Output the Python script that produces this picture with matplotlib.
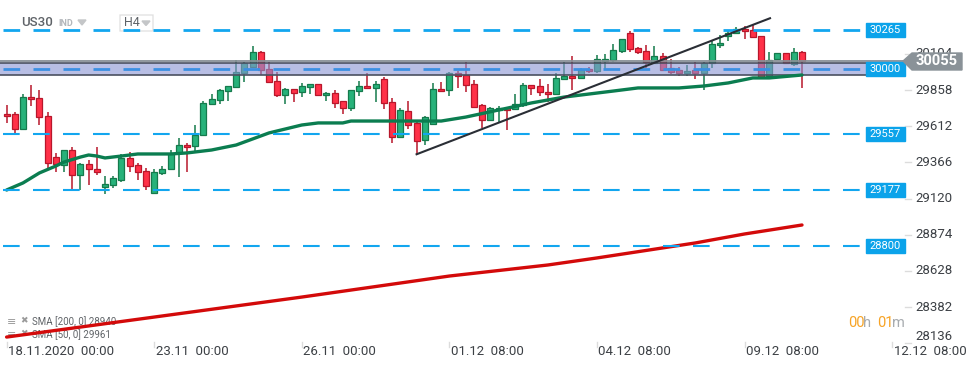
import matplotlib.pyplot as plt
import numpy as np
from matplotlib.patches import Rectangle, Polygon, FancyBboxPatch

plt.rcParams['font.family'] = ['Roboto', 'DejaVu Sans']
plt.rcParams['lines.scale_dashes'] = False

# US30, H4 candles
opens = [29695, 29693, 29591, 29808, 29802, 29679, 29400, 29348, 29448, 29278,
         29353, 29319, 29196, 29210, 29244, 29394, 29346, 29305, 29156, 29292,
         29319, 29428, 29482, 29475, 29550, 29761, 29788, 29849, 29876, 29972,
         30012, 30114, 29999, 29917, 29822, 29863, 29842, 29877, 29897, 29822,
         29836, 29781, 29734, 29849, 29883, 29870, 29931, 29774, 29536, 29713,
         29632, 29516, 29625, 29863, 29856, 29972, 29958, 29897, 29754, 29652,
         29720, 29734, 29727, 29754, 29890, 29883, 29842, 29829, 29931, 29951,
         29938, 29999, 29985, 30053, 30060, 30121, 30244, 30142, 30121, 30040,
         30087, 30006, 29992, 29972, 29992, 29972, 30040, 30162, 30223, 30244,
         30271, 30264, 30223, 29951, 30067, 30108, 30033, 30114]
closes = [29679, 29591, 29808, 29795, 29672, 29360, 29353, 29448, 29278, 29353,
          29319, 29298, 29217, 29258, 29394, 29339, 29298, 29203, 29298, 29319,
          29421, 29482, 29468, 29554, 29768, 29795, 29856, 29883, 29978, 30040,
          30114, 29992, 29910, 29822, 29863, 29836, 29883, 29897, 29822, 29836,
          29768, 29734, 29856, 29883, 29870, 29897, 29768, 29536, 29720, 29618,
          29509, 29672, 29863, 29849, 29972, 29951, 29890, 29740, 29652, 29734,
          29734, 29720, 29761, 29890, 29870, 29842, 29829, 29938, 29951, 29938,
          29992, 29985, 30067, 30067, 30128, 30203, 30135, 30114, 30046, 30087,
          29992, 29978, 29972, 29985, 29972, 30040, 30169, 30176, 30244, 30271,
          30257, 30216, 29944, 30060, 30108, 30040, 30114, 30055]
highs = [29756, 29708, 29831, 29892, 29858, 29708, 29428, 29450, 29468, 29360,
         29382, 29470, 29273, 29271, 29421, 29434, 29360, 29328, 29319, 29339,
         29448, 29532, 29496, 29620, 29780, 29829, 29865, 29888, 30060, 30050,
         30157, 30123, 30048, 29978, 29870, 29866, 29904, 29900, 29900, 29843,
         29856, 29785, 29860, 29917, 29974, 29917, 29944, 29802, 29734, 29781,
         29640, 29680, 29904, 29912, 29982, 29989, 30046, 29924, 29760, 29740,
         29747, 29738, 29831, 29904, 29895, 29931, 29897, 29972, 30046, 30087,
         30006, 30012, 30094, 30101, 30169, 30207, 30261, 30148, 30162, 30155,
         30107, 30067, 30012, 30026, 30050, 30046, 30189, 30230, 30264, 30285,
         30291, 30298, 30225, 30114, 30110, 30112, 30142, 30121]
lows = [29636, 29568, 29591, 29751, 29620, 29330, 29302, 29302, 29187, 29178,
        29214, 29282, 29149, 29190, 29230, 29298, 29244, 29180, 29156, 29282,
        29319, 29268, 29302, 29438, 29545, 29755, 29761, 29785, 29870, 29914,
        30005, 29960, 29904, 29808, 29761, 29774, 29808, 29829, 29815, 29781,
        29734, 29693, 29713, 29815, 29866, 29774, 29727, 29496, 29530, 29595,
        29421, 29482, 29618, 29845, 29815, 29870, 29842, 29734, 29598, 29645,
        29638, 29588, 29720, 29740, 29822, 29815, 29774, 29825, 29928, 29856,
        29932, 29972, 29972, 29994, 30046, 30107, 30114, 30101, 30006, 30035,
        29985, 29965, 29951, 29951, 29931, 29856, 30006, 30142, 30189, 30240,
        30203, 30210, 29940, 29945, 30064, 30035, 30019, 29870]

sma50_idx = [0, 2, 4, 6, 7, 9, 10, 11, 12, 14, 16, 20, 22, 25, 28, 30, 32, 34, 36,
             38, 41, 42, 49, 53, 56, 60, 64, 68, 74, 77, 82, 85, 88, 91, 93, 97]
sma50_val = [29178, 29226, 29294, 29341, 29368, 29402, 29416, 29409, 29396, 29409,
             29423, 29423, 29430, 29450, 29484, 29525, 29566, 29593, 29620,
             29634, 29634, 29647, 29647, 29647, 29674, 29722, 29770, 29810, 29851,
             29872, 29872, 29885, 29906, 29940, 29940, 29960]
sma200_idx = [0, 18, 36, 54, 66, 72, 84, 90, 97]
sma200_val = [28178, 28314, 28450, 28593, 28668, 28716, 28818, 28879, 28940]
sma200_last = 28940
sma50_last = 29961

levels = [30265, 29557, 29177, 28800]
band_level = 30000
band_low, band_high = 29958, 30042
last_price = 30055
trend_idx = [50, 93.1]
trend_val = [29421, 30346]

y_ticks = [30104, 29858, 29612, 29366, 29120, 28874, 28628, 28382, 28136]
x_tick_idx = [0, 18, 36, 54, 72, 90, 108]
x_tick_labels = ['18.11.2020  00:00', '23.11  00:00', '26.11  00:00', '01.12  08:00',
                 '04.12  08:00', '09.12  08:00', '12.12  08:00']

# pixel <-> data mapping (axes fill the whole figure)
W, H = 974, 368
x0, dx = 6.6, 8.2
p0, dp = 30470, 6.8


def X(px):
    return (px - x0) / dx


def Y(py):
    return p0 - dp * py


fig = plt.figure(figsize=(W / 100, H / 100), dpi=100)
ax = fig.add_axes([0, 0, 1, 1])
ax.set_xlim(X(0), X(W))
ax.set_ylim(Y(H), Y(0))
ax.axis('off')

# candles
o = np.array(opens)
c = np.array(closes)
idx = np.arange(len(o))
up = c >= o
fill = np.where(up, '#27b27a', '#ff3148')
edge = np.where(up, '#157a4c', '#b8172b')
ax.vlines(idx, lows, highs, colors=edge, lw=1.1, zorder=3)
ax.bar(idx, np.maximum(np.abs(c - o), 6), bottom=np.minimum(o, c), width=0.72,
       color=fill, edgecolor=edge, linewidth=0.9, zorder=3)

# 30000 zone
ax.add_patch(Rectangle((X(-5), band_low), X(867) - X(-5), band_high - band_low,
                       facecolor=(137 / 255, 148 / 255, 210 / 255, 0.6),
                       edgecolor='#4a5060', lw=1.2, zorder=4))
ax.plot([X(3), X(865)], [band_level] * 2, color='#3b8fe2', lw=2, dashes=(12, 9.6), zorder=4.5)
ax.plot([X(0), X(903)], [last_price] * 2, color='#878f96', lw=1.3, zorder=4.5)

# horizontal levels
for lv in levels:
    lw = 2 if lv == levels[0] else 1.5
    ax.plot([X(3), X(865)], [lv, lv], color='#12a6ef', lw=lw, dashes=(12, 9.6), zorder=6)

# moving averages + trendline
ax.plot(sma50_idx, sma50_val, color='#0b7d50', lw=2.4, zorder=5, solid_capstyle='round')
ax.plot(sma200_idx, sma200_val, color='#d30a0a', lw=2.4, zorder=5, solid_capstyle='round')
ax.plot(trend_idx, trend_val, color='#2a2e35', lw=1.5, zorder=7)

# level labels
for lv in levels + [band_level]:
    ax.add_patch(Rectangle((X(866), lv - 7 * dp), X(905) - X(866), 14 * dp,
                           color='#0ba3ea', zorder=8))
    ax.text(X(885.5), lv, str(lv), color='white', fontsize=8, ha='center', va='center', zorder=9)

# price axis
for t in y_ticks:
    yt = t if t != y_ticks[-1] else Y(337)
    ax.plot([X(905), X(911)], [t, t], color='#dcdcdc', lw=1, zorder=2)
    ax.text(X(915), yt, str(t), fontsize=9.5, color='#3c4045', ha='left', va='center', zorder=2)

# current price tag
tag = [(X(903), last_price), (X(912), Y(53)), (X(962), Y(53)), (X(962), Y(70)), (X(912), Y(70))]
ax.add_patch(Polygon(tag, closed=True, color='#8a9298', zorder=10))
ax.text(X(937), last_price, str(last_price), color='white', fontsize=10.5, fontweight='bold',
        ha='center', va='center', zorder=11)

# time axis
for i, lab in zip(x_tick_idx, x_tick_labels):
    ax.plot([i, i], [Y(342), Y(347)], color='#dcdcdc', lw=1, zorder=2)
    ax.text(X(x0 + dx * i + 1.5), Y(352), lab, fontsize=9.5, color='#3c4045',
            ha='left', va='center', zorder=2)

# header
ax.text(X(21), Y(23), 'US30', fontsize=9.5, color='#5f6368', fontweight='medium', va='center')
ax.text(X(58), Y(24), 'IND', fontsize=6.5, color='#b3b7bb', fontweight='bold', va='center')
ax.add_patch(Polygon([(X(78), Y(20)), (X(86), Y(20)), (X(82), Y(25))], color='#c4c6c8'))
ax.add_patch(FancyBboxPatch((X(120), Y(31)), X(153) - X(120), Y(15) - Y(31),
                            boxstyle='round,pad=0,rounding_size=0.4',
                            facecolor='white', edgecolor='#e3e3e3', lw=1))
ax.text(X(124), Y(23), 'H4', fontsize=9, color='#5f6368', va='center')
ax.add_patch(Polygon([(X(142), Y(21)), (X(150), Y(21)), (X(146), Y(25.5))], color='#c4c6c8'))

# indicator legend
for ypx, lab in [(322, 'SMA [200, 0] %d' % sma200_last), (335, 'SMA [50, 0] %d' % sma50_last)]:
    ax.text(X(7), Y(ypx), '\u2261', fontsize=8, color='#9a9a9a', va='center', family='DejaVu Sans')
    ax.text(X(20), Y(ypx - 1), '\u2716', fontsize=6.5, color='#9a9a9a', va='center', family='DejaVu Sans')
    ax.text(X(32), Y(ypx), lab, fontsize=7, color='#606468', va='center')

# countdown
for px, s, col in [(848, '00', '#f7a325'), (863, 'h', '#a7abaf'), (877, '01', '#f7a325'), (892, 'm', '#a7abaf')]:
    ax.text(X(px), Y(323), s, fontsize=10.5, color=col, va='center')

fig.savefig('out.png', dpi=100)
